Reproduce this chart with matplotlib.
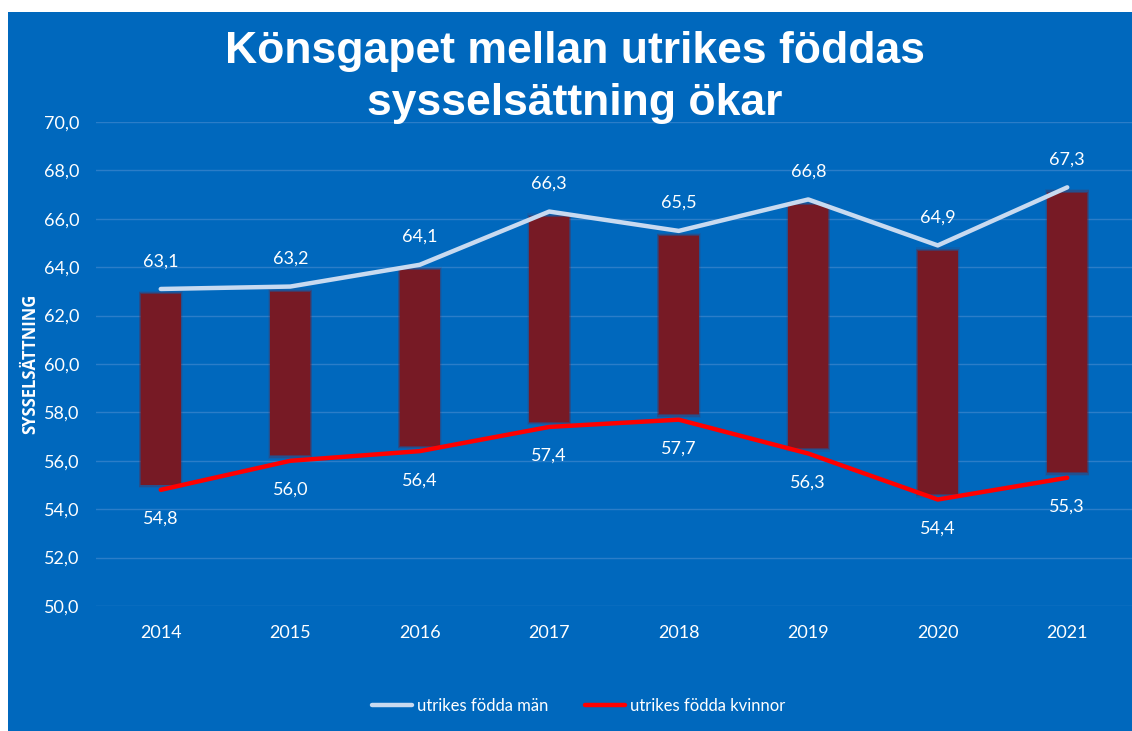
import matplotlib.pyplot as plt
import matplotlib.patches as mpatches
import numpy as np

# ------------------------------------------------------------
# Data
# ------------------------------------------------------------
years = ["2014", "2015", "2016", "2017", "2018", "2019", "2020", "2021"]
men = [63.1, 63.2, 64.1, 66.3, 65.5, 66.8, 64.9, 67.3]
women = [54.8, 56.0, 56.4, 57.4, 57.7, 56.3, 54.4, 55.3]
y_ticks = [50, 52, 54, 56, 58, 60, 62, 64, 66, 68, 70]

BLUE = "#0068bd"
GRID = "#2b7dc8"
MAROON = "#771a25"
MEN_C = "#c8daf0"
WOMEN_C = "#ff0000"
FONT = "Lato"

fig = plt.figure(figsize=(11.32, 7.31), dpi=100, facecolor="white")

# blue chart area (white border top and left, as in the screenshot)
fig.patches.append(mpatches.Rectangle((8/1132, 0), 1 - 8/1132, 1 - 12/731,
                                      transform=fig.transFigure,
                                      facecolor=BLUE, edgecolor="none", zorder=-10))

ax = fig.add_axes([96/1132, (731-606)/731, 1 - 96/1132, (606-122)/731])
ax.set_facecolor("none")

x = np.arange(len(years))

# up-down bars with soft edges (layered for a blur look)
hi = np.array(men)
lo = np.array(women)
for k, (w, inset, a) in enumerate([(0.34, 0.08, 0.10), (0.33, 0.13, 0.22),
                                   (0.32, 0.18, 0.45), (0.31, 0.22, 1.0)]):
    ax.bar(x, (hi - inset) - (lo + inset), bottom=lo + inset, width=w,
           color=MAROON, alpha=a, linewidth=0, zorder=2 + k * 0.01)

# lines
ax.plot(x, men, color=MEN_C, lw=3.2, solid_capstyle="round", zorder=3,
        label="utrikes födda män")
ax.plot(x, women, color=WOMEN_C, lw=3.2, solid_capstyle="round", zorder=3,
        label="utrikes födda kvinnor")

# data labels
for xi, m, f in zip(x, men, women):
    ax.annotate(f"{m:.1f}".replace(".", ","), (xi, m), xytext=(0, 20),
                textcoords="offset points", ha="center", va="center",
                color="white", fontsize=13, family=FONT)
    ax.annotate(f"{f:.1f}".replace(".", ","), (xi, f), xytext=(0, -21),
                textcoords="offset points", ha="center", va="center",
                color="white", fontsize=13, family=FONT)

# axes
ax.set_xlim(-0.5, len(years) - 0.5)
ax.set_ylim(50, 70)
ax.set_yticks(y_ticks)
ax.set_yticklabels([f"{v:.1f}".replace(".", ",") for v in y_ticks],
                   color="white", fontsize=13, family=FONT)
ax.set_xticks(x)
ax.set_xticklabels(years, color="white", fontsize=13, family=FONT)
ax.tick_params(axis="both", length=0)
ax.tick_params(axis="x", pad=14)
ax.tick_params(axis="y", pad=12)
ax.grid(axis="y", color=GRID, lw=1, zorder=1)
ax.set_axisbelow(True)
for s in ax.spines.values():
    s.set_visible(False)

fig.text(30/1132, 1 - 364/731, "SYSSELSÄTTNING", rotation=90, ha="center",
         va="center", color="white", fontsize=12, fontweight="bold",
         family="Open Sans")

# title
fig.text(575/1132, 1 - 52/731, "Könsgapet mellan utrikes föddas", ha="center",
         va="center", color="white", fontsize=32, fontweight="bold",
         family="Liberation Sans")
fig.text(575/1132, 1 - 103/731, "sysselsättning ökar", ha="center",
         va="center", color="white", fontsize=32, fontweight="bold",
         family="Liberation Sans")

leg = fig.legend(loc="center", bbox_to_anchor=(579/1132, 1 - 706/731), ncol=2,
                 frameon=False, handlelength=2.4,
                 handletextpad=0.3, columnspacing=2.2,
                 prop={"family": FONT, "size": 12})
for t in leg.get_texts():
    t.set_color("white")

fig.savefig("out.png", dpi=100, facecolor="white")
